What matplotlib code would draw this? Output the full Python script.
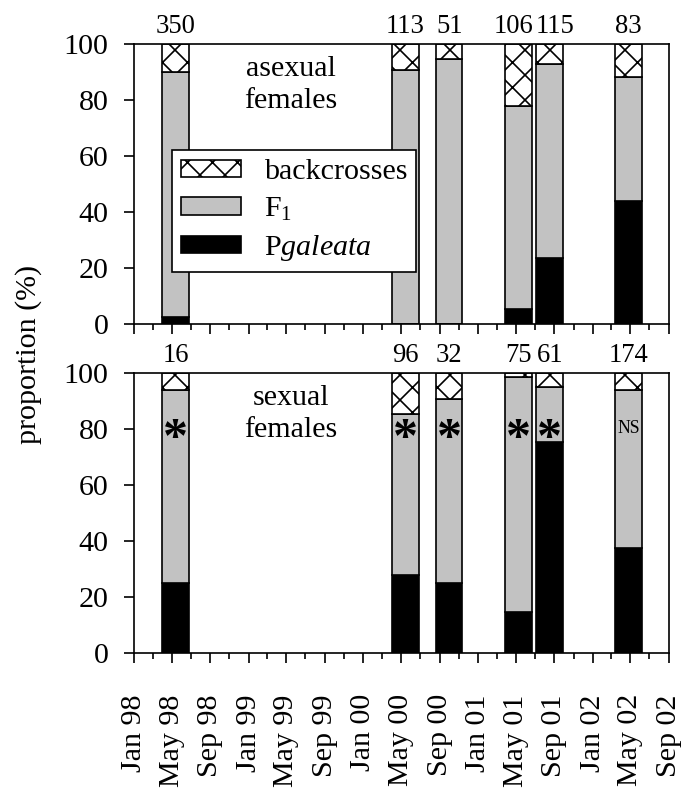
import numpy as np
import pandas as pd
import matplotlib
matplotlib.use("Agg")
import matplotlib.pyplot as plt
import matplotlib.dates as mdates
from matplotlib.patches import Patch

plt.rcParams["font.family"] = ["Liberation Serif", "DejaVu Serif"]
plt.rcParams["mathtext.fontset"] = "custom"
plt.rcParams["mathtext.rm"] = "Liberation Serif"
plt.rcParams["mathtext.it"] = "Liberation Serif:italic"
plt.rcParams["hatch.linewidth"] = 0.8

# datas das amostras (centro das barras)
sample_dates = ["1998-05-13", "2000-05-15", "2000-10-01", "2001-05-10", "2001-08-17", "2002-04-25"]

# femeas assexuadas (%)
asex_n = [350, 113, 51, 106, 115, 83]
asex_galeata = [2.4, 0.0, 0.0, 5.2, 23.6, 44.1]
asex_f1 = [87.6, 90.6, 94.5, 72.8, 69.1, 44.1]

# femeas sexuadas (%)
sex_n = [16, 96, 32, 75, 61, 174]
sex_galeata = [25.0, 28.0, 25.0, 14.7, 75.4, 37.6]
sex_f1 = [68.75, 57.2, 65.6, 84.0, 19.7, 56.4]
sex_signif = ["*", "*", "*", "*", "*", "NS"]

# deslocamento horizontal dos rotulos n (pontos), para nao se sobreporem
asex_n_nudge = [0, 0, 0, -2.4, 2.6, 0]
sex_n_nudge = [0, 0, 0, 0, 0, 0]

GRAY = "#c2c2c2"
LW = 0.8
FS = 14.4
FS_N = 12.8
DPI = 150
BAR_DAYS = 84


def configurar_eixos(ax, mostrar_rotulos):
    ax.set_ylim(0, 100)
    ax.set_xlim(mdates.datestr2num("1998-01-01"), mdates.datestr2num("2002-09-01"))
    ax.set_yticks([0, 20, 40, 60, 80, 100])
    ax.xaxis.set_major_locator(mdates.MonthLocator(bymonth=[1, 5, 9]))
    ax.xaxis.set_minor_locator(mdates.MonthLocator(bymonth=[3, 7, 11]))
    ax.xaxis.set_major_formatter(mdates.DateFormatter("%b %y"))
    for s in ax.spines.values():
        s.set_linewidth(LW)
    ax.tick_params(axis="y", which="major", length=4.8, width=LW, pad=7.5, labelsize=FS)
    ax.tick_params(axis="x", which="major", length=4.8, width=LW, pad=15, labelsize=FS,
                   labelrotation=90, labelbottom=mostrar_rotulos)
    ax.tick_params(axis="x", which="minor", length=2.9, width=LW)


def desenhar_painel(ax, galeata, f1, n, nudge, titulo):
    x = mdates.date2num(pd.to_datetime(sample_dates))
    galeata = np.array(galeata)
    f1 = np.array(f1)
    bc = 100 - galeata - f1
    ax.bar(x, galeata, BAR_DAYS, color="black", edgecolor="black", linewidth=LW)
    ax.bar(x, f1, BAR_DAYS, bottom=galeata, color=GRAY, edgecolor="black", linewidth=LW)
    ax.bar(x, bc, BAR_DAYS, bottom=galeata + f1, color="white", edgecolor="black",
           linewidth=LW, hatch="xx")
    for xi, ni, dx in zip(x, n, nudge):
        ax.annotate(str(ni), (xi, 100), xytext=(dx, 2.5), textcoords="offset points",
                    ha="center", va="bottom", fontsize=FS_N, annotation_clip=False)
    ax.text(mdates.datestr2num("1999-05-16"), 85.5, titulo, ha="center", va="center",
            fontsize=FS, linespacing=1.3)
    return x


fig = plt.figure(figsize=(684 / DPI, 791 / DPI), dpi=DPI)
ax1 = fig.add_axes([0.196, 0.5904, 0.782, 0.354])
ax2 = fig.add_axes([0.196, 0.1745, 0.782, 0.354])

desenhar_painel(ax1, asex_galeata, asex_f1, asex_n, asex_n_nudge, "asexual\nfemales")
x2 = desenhar_painel(ax2, sex_galeata, sex_f1, sex_n, sex_n_nudge, "sexual\nfemales")

for xi, s in zip(x2, sex_signif):
    if s == "NS":
        ax2.text(xi, 80, s, ha="center", va="center", fontsize=8.5)
    else:
        ax2.text(xi, 76, s, ha="center", va="center", fontsize=24, fontweight="bold")

configurar_eixos(ax1, False)
configurar_eixos(ax2, True)

handles = [
    Patch(facecolor="white", edgecolor="black", hatch="xx", linewidth=LW),
    Patch(facecolor=GRAY, edgecolor="black", linewidth=LW),
    Patch(facecolor="black", edgecolor="black", linewidth=LW),
]
labels = ["backcrosses", r"F$_1$", r"P$\it{galeata}$"]
leg = ax1.legend(handles, labels, loc="upper left", bbox_to_anchor=(0.071, 0.621),
                 borderaxespad=0, fontsize=FS, fancybox=False, framealpha=1,
                 edgecolor="black", handlelength=2.0, handleheight=0.5,
                 handletextpad=0.75, labelspacing=0.35, borderpad=0.3)
leg.get_frame().set_linewidth(LW)

fig.text(0.041, 0.5525, "proportion (%)", rotation=90, ha="center", va="center", fontsize=FS)

fig.savefig("out.png", dpi=DPI)
